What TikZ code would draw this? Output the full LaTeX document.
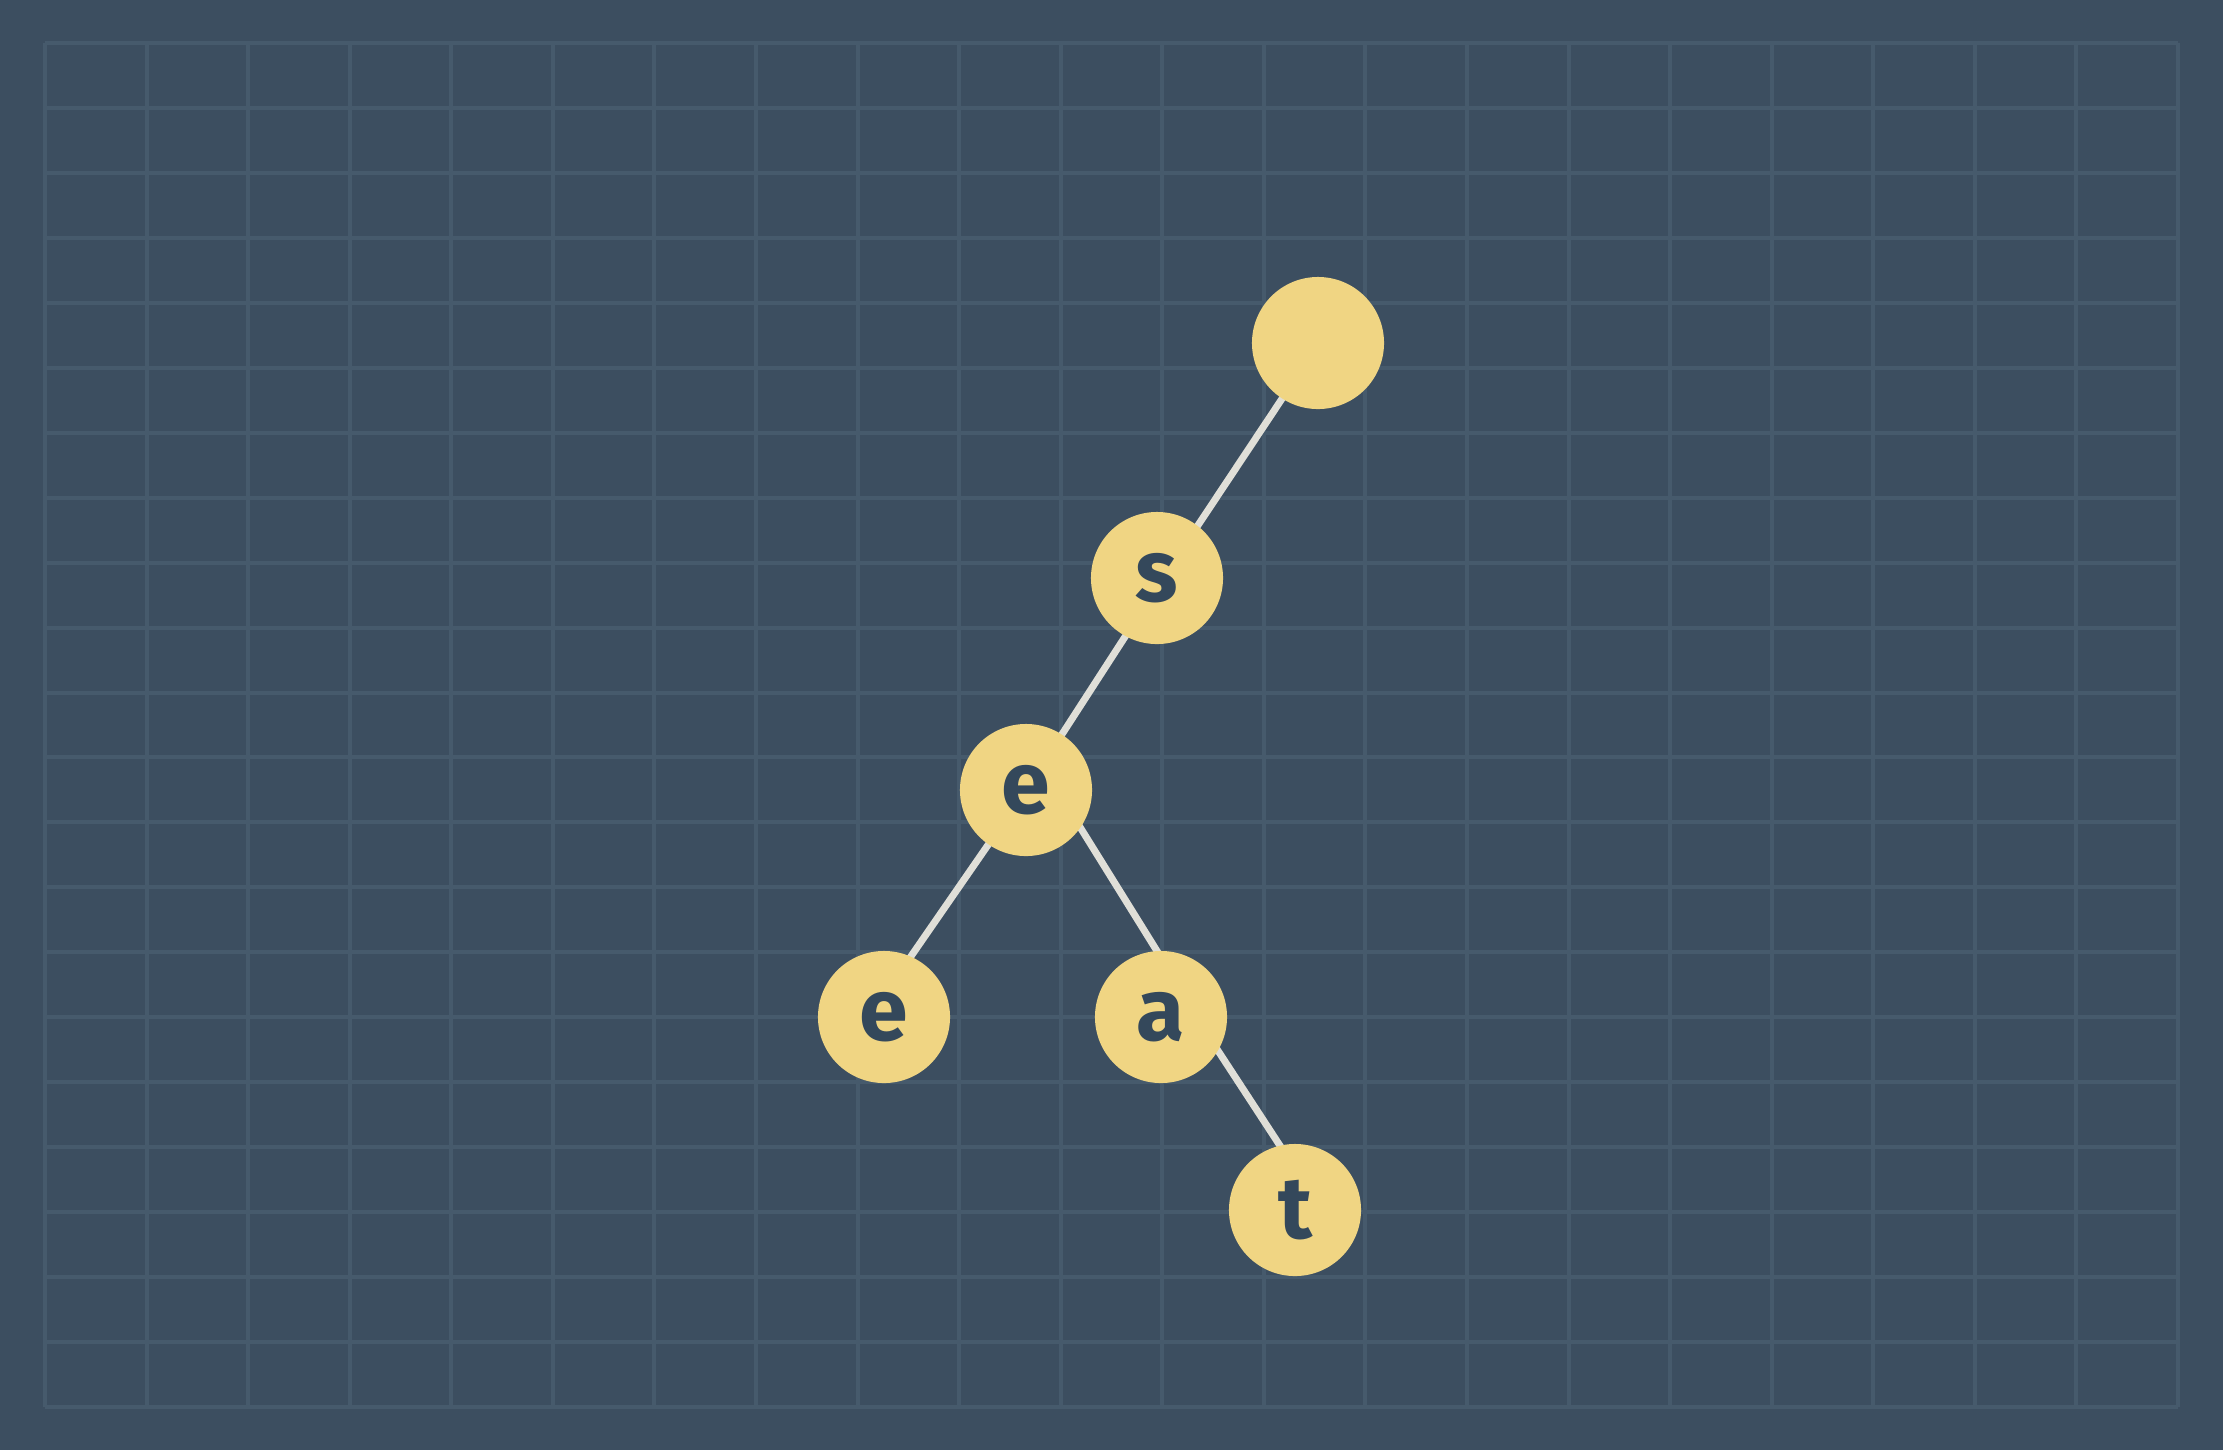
\documentclass[tikz,border=0pt]{standalone}
\usepackage{fontspec}
\usepackage{xcolor}
\newfontfamily\triefont{Fira Sans}
\definecolor{slatebg}{HTML}{3C4E60}
\definecolor{gridline}{HTML}{465A6C}
\definecolor{nodeyellow}{HTML}{F0D583}
\definecolor{letterink}{HTML}{34485B}
\definecolor{edgegray}{HTML}{E0DFD8}
\pgfdeclarelayer{grid}
\pgfdeclarelayer{edges}
\pgfsetlayers{grid,edges,main}

\begin{document}
\begin{tikzpicture}[
    x=0.01cm, y=-0.01cm,
    trie/.style={circle, fill=nodeyellow, minimum size=1.32cm, inner sep=0pt, outer sep=0pt,
                 text=letterink, font=\triefont\bfseries\fontsize{25}{25}\selectfont},
    link/.style={draw=edgegray, line width=0.07cm}
]
\useasboundingbox (0,0) rectangle (2223,1450);
\begin{pgfonlayer}{grid}
\fill[slatebg] (0,0) rectangle (2223,1450);
\foreach \i in {0,...,21}
    \draw[gridline, line width=0.04cm] ({45+\i*101.57},43) -- ({45+\i*101.57},1407);
\foreach \j in {0,...,21}
    \draw[gridline, line width=0.04cm] (45,{43+\j*64.95}) -- (2178,{43+\j*64.95});
\end{pgfonlayer}

\node[trie] (root) at (1318,343) {};
\node[trie] (s) at (1157,578) {s};
\node[trie] (e) at (1026,790) {e};
\node[trie] (ee) at (884,1017) {e};
\node[trie] (ea) at (1161,1017) {a};
\node[trie] (eat) at (1295,1210) {t};

\begin{pgfonlayer}{edges}
\draw[link] ([shift={(1,0)}]root.center) -- ([shift={(6,0)}]s.center);
\draw[link] ([shift={(6,0)}]s.center) -- (e.center);
\draw[link] (e.center) -- ([shift={(-15,0)}]ee.center);
\draw[link] ([shift={(31,0)}]e.center) -- ([shift={(37,0)}]ea.center);
\draw[link] ([shift={(35,0)}]ea.center) -- ([shift={(27,0)}]eat.center);
\end{pgfonlayer}
\end{tikzpicture}
\end{document}
